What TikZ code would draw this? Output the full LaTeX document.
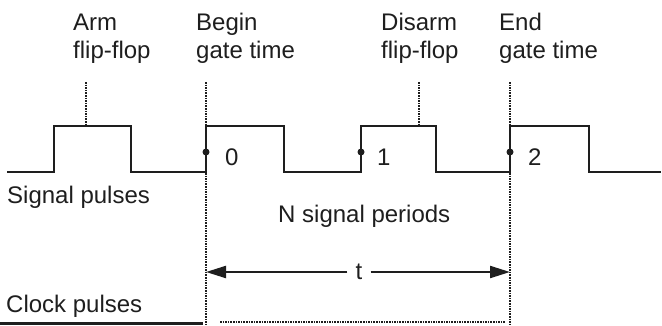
\documentclass[tikz,border=0pt]{standalone}
\usepackage{fontspec}
\setmainfont{Liberation Sans}
\usetikzlibrary{arrows.meta}
\definecolor{ink}{HTML}{1E1E1E}
\tikzset{
  lbl/.style={anchor=base west, inner sep=0pt, text=ink, font=\fontsize{24}{28}\selectfont},
  wave/.style={draw=ink, line width=2.3pt, line join=miter},
  dotln/.style={draw=ink, line width=2.2pt, dash pattern=on 1.5pt off 1.1pt},
  mark dot/.style={circle, fill=ink, inner sep=0pt, minimum size=7pt},
  tarrow/.style={draw=ink, line width=2.2pt, -{Triangle[length=20pt,width=12pt]}},
}
\begin{document}
\begin{tikzpicture}[x=1pt,y=-1pt]
\useasboundingbox (0,0) rectangle (662,325);
% headings
\node[lbl] (arm1) at (73,30) {Arm};
\node[lbl] (arm2) at (73,58) {flip-flop};
\node[lbl] (beg1) at (196,30) {Begin};
\node[lbl] (beg2) at (196,58) {gate time};
\node[lbl] (dis1) at (381,30) {Disarm};
\node[lbl] (dis2) at (381,58) {flip-flop};
\node[lbl] (end1) at (499,30) {End};
\node[lbl] (end2) at (499,58) {gate time};
% left labels
\node[lbl] (sig) at (7,203) {Signal pulses};
\node[lbl] (clk) at (6,312) {Clock pulses};
\node[lbl] (nper) at (278,222) {N signal periods};
% dotted markers
\coordinate (armT) at (86,82);  \coordinate (armB) at (86,126);
\coordinate (disT) at (419,82); \coordinate (disB) at (419,126);
\coordinate (begT) at (206,82); \coordinate (begB) at (206,325);
\coordinate (endT) at (510,82); \coordinate (endB) at (510,325);
\draw[dotln] (armT) -- (armB);
\draw[dotln] (disT) -- (disB);
\draw[dotln] (begT) -- (begB);
\draw[dotln] (endT) -- (endB);
% signal waveform
\draw[wave] (7,172) -- (54,172) -- (54,126) -- (131,126) -- (131,172)
  -- (206,172) -- (206,126) -- (284,126) -- (284,172)
  -- (361,172) -- (361,126) -- (436,126) -- (436,172)
  -- (510,172) -- (510,126) -- (589,126) -- (589,172) -- (661,172);
% count points
\node[mark dot] (p0) at (206,152) {};
\node[mark dot] (p1) at (361,152) {};
\node[mark dot] (p2) at (510,152) {};
\node[lbl] (n0) at (225,165) {0};
\node[lbl] (n1) at (377,165) {1};
\node[lbl] (n2) at (528,165) {2};
% gate time arrow
\node[lbl, anchor=base, inner xsep=8pt] (t) at (359,279) {t};
\coordinate (tl) at (206,272);
\coordinate (tr) at (510,272);
\draw[tarrow] (t.west |- tl) -- (tl);
\draw[tarrow] (t.east |- tr) -- (tr);
% clock pulses baseline
\coordinate (c0) at (0,323.5);
\coordinate (c1) at (203,323.5);
\draw[wave] (c0) -- (c1);
\coordinate (d0) at (220,321.5);
\coordinate (d1) at (505,321.5);
\draw[dotln, line width=2pt] (d0) -- (d1);
\end{tikzpicture}
\end{document}
